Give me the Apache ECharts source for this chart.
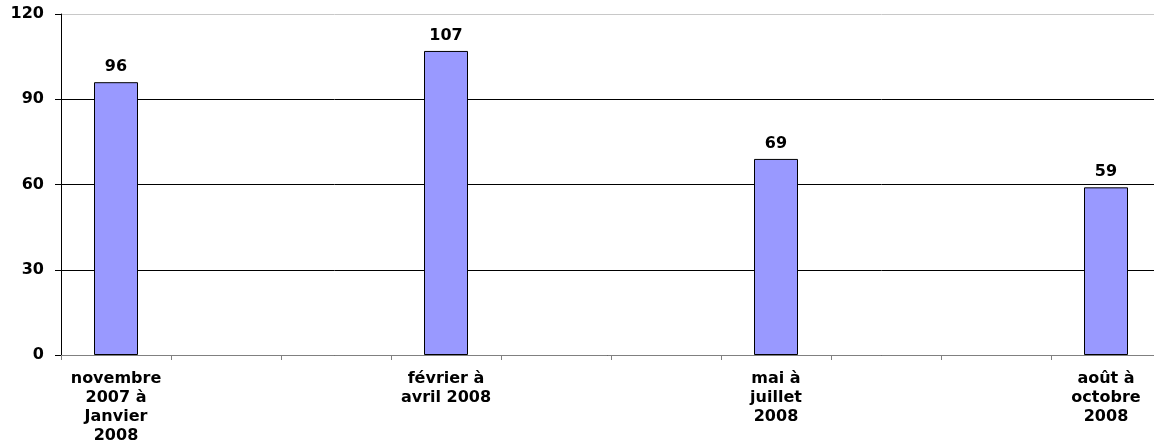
<!DOCTYPE html>
<html>
<head>
<meta charset="utf-8">
<script src="https://cdn.jsdelivr.net/npm/echarts@6/dist/echarts.min.js"></script>
<style>
html,body{margin:0;padding:0;background:#fff;}
#chart{width:1154px;height:444px;}
</style>
</head>
<body>
<div id="chart"></div>
<script>
const categories = ['novembre\n2007 à\nJanvier\n2008', '', '', 'février à\navril 2008', '', '', 'mai à\njuillet\n2008', '', '', 'août à\noctobre\n2008'];
const values = [96, null, null, 107, null, null, 69, null, null, 59];
const yTicks = [0, 30, 60, 90, 120];

const FONT = 'DejaVu Sans, Liberation Sans, Arial, sans-serif';
const chart = echarts.init(document.getElementById('chart'));
chart.setOption({
  animation: false,
  grid: { left: 61, top: 14, height: 341, width: 1100, containLabel: false, outerBoundsMode: 'none' },
  xAxis: {
    type: 'category',
    data: categories,
    boundaryGap: true,
    axisLine: { lineStyle: { color: '#808080', width: 1 } },
    axisTick: { show: true, length: 5, lineStyle: { color: '#808080' }, alignWithLabel: false },
    axisLabel: {
      interval: 0,
      color: '#000',
      fontFamily: FONT,
      fontWeight: 'bold',
      fontSize: 16,
      lineHeight: 19,
      margin: 14
    }
  },
  yAxis: {
    type: 'value',
    min: yTicks[0],
    max: yTicks[yTicks.length - 1],
    interval: 30,
    axisLine: { show: true, lineStyle: { color: '#000', width: 1 } },
    axisTick: { show: true, length: 6, lineStyle: { color: '#000' } },
    axisLabel: {
      color: '#000',
      fontFamily: FONT,
      fontWeight: 'bold',
      fontSize: 16,
      margin: 17
    },
    splitLine: { show: true, lineStyle: { color: ['#000', '#000', '#000', '#000', '#c8c8c8'], width: 1 } }
  },
  series: [{
    type: 'bar',
    data: values,
    barWidth: 44,
    itemStyle: { color: '#9999FF', borderColor: '#000', borderWidth: 1 },
    label: {
      show: true,
      position: 'top',
      distance: 7,
      color: '#000',
      fontFamily: FONT,
      fontWeight: 'bold',
      fontSize: 16
    }
  }]
});
</script>
</body>
</html>
